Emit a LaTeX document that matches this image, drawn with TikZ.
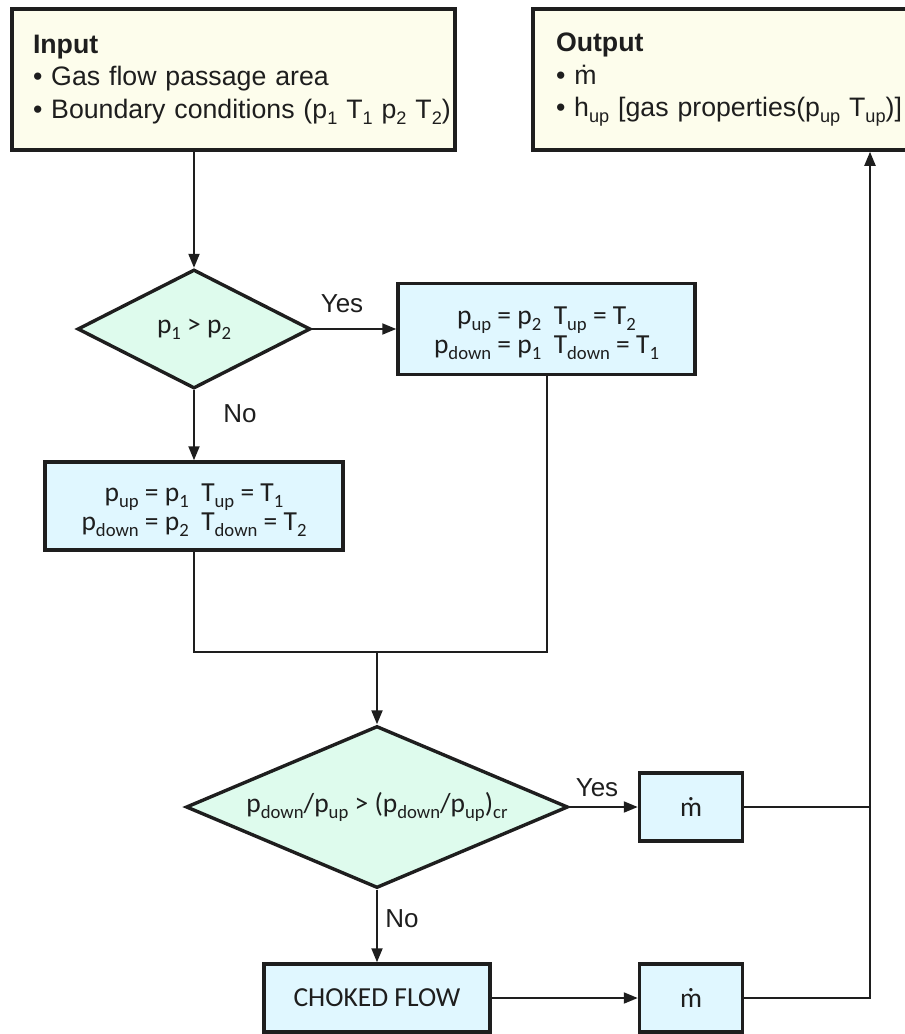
\documentclass[tikz,border=0pt]{standalone}
\usepackage{fontspec}
\setmainfont{Liberation Sans}
\newfontfamily\calfont{Carlito}
\usetikzlibrary{arrows.meta,shapes.geometric,calc}

\definecolor{inputfill}{RGB}{253,253,236}
\definecolor{procfill}{RGB}{224,247,255}
\definecolor{decfill}{RGB}{222,251,237}
\definecolor{ink}{RGB}{30,30,30}

% subscript helper
\newcommand\lo[1]{\raisebox{-0.22em}{\scalebox{0.68}{#1}}}
\newcommand\mdot{\accent"02D9 m}
% extra head room so two-line formulas sit a little lower
\newcommand\toprule{\rule{0pt}{27pt}}

\tikzset{
  iobox/.style={draw=ink, fill=inputfill, line width=3.5pt, rectangle,
    minimum height=141pt, inner ysep=0pt, align=left, text=ink,
    font=\fontsize{26.7}{32.5}\selectfont},
  procbox/.style={draw=ink, fill=procfill, line width=3.5pt, rectangle,
    inner sep=0pt, align=center, text=ink,
    font=\calfont\fontsize{27.5}{29}\selectfont},
  decision/.style={draw=ink, fill=decfill, line width=3.4pt, diamond,
    inner sep=0pt, align=center, text=ink,
    font=\calfont\fontsize{27.5}{28}\selectfont},
  conn/.style={draw=ink, line width=2pt},
  arr/.style={conn, -{Triangle[length=14pt,width=11pt]}},
  yn/.style={text=ink, font=\fontsize{26}{30}\selectfont, inner sep=0pt}
}

\begin{document}
\begin{tikzpicture}[x=1pt,y=-1pt]
\useasboundingbox (0,0) rectangle (905,1034);
\begin{scope}
\clip (0,0) rectangle (905,1034);

% input / output
\node[iobox, inner xsep=21pt, text width=401pt] (in) at (233.5,79.5)
  {\mbox{\textbf{Input}}\\
   \mbox{• Gas flow passage area}\\
   \mbox{• Boundary conditions (p\lo{1} T\lo{1} p\lo{2} T\lo{2})}};
\node[iobox, inner xsep=23pt, text width=360pt] (out) at (736,79.5)
  {\mbox{\textbf{Output}}\\
   \mbox{• \mdot}\\
   \mbox{• h\lo{up} [gas properties(p\lo{up} T\lo{up})]}};

% first decision
\node[decision, aspect=1.96, minimum width=233pt, minimum height=119pt] (d1) at (194,329)
  {p\lo{1} > p\lo{2}};
\node[procbox, minimum width=297pt, minimum height=91pt] (b1) at (546.5,329)
  {\toprule p\lo{up} = p\lo{2}\ \ T\lo{up} = T\lo{2}\\
   p\lo{down} = p\lo{1}\ \ T\lo{down} = T\lo{1}};
\node[procbox, minimum width=298pt, minimum height=88pt] (b2) at (194,506)
  {\toprule p\lo{up} = p\lo{1}\ \ T\lo{up} = T\lo{1}\\
   p\lo{down} = p\lo{2}\ \ T\lo{down} = T\lo{2}};

% second decision
\node[decision, aspect=2.36, minimum width=382pt, minimum height=162pt] (d2) at (377,807)
  {p\lo{down}/p\lo{up} > (p\lo{down}/p\lo{up})\lo{cr}};
\node[procbox, minimum width=103pt, minimum height=68pt] (m1) at (691,807) {\mdot};
\node[procbox, minimum width=226pt, minimum height=68pt] (ch) at (377,998) {CHOKED FLOW};
\node[procbox, minimum width=103pt, minimum height=68pt] (m2) at (691,998) {\mdot};

\coordinate (mrg) at (377,652);
\coordinate (rail) at (870,0);

% connectors
\draw[arr] (d1.north |- in.south) -- (d1.north);
\draw[arr] (d1.east) -- (b1.west);
\node[yn] (yes1) at (342,304) {Yes};
\draw[arr] (d1.south) -- (b2.north);
\node[yn] (no1) at (240,414) {No};
\draw[conn] (b2.south) -- (b2.south |- mrg) -- (b1.south |- mrg) -- (b1.south);
\draw[arr] (mrg) -- (d2.north);
\draw[arr] (d2.east) -- (m1.west);
\node[yn] (yes2) at (597,788) {Yes};
\draw[arr] (d2.south) -- (ch.north);
\node[yn] (no2) at (402,919) {No};
\draw[arr] (ch.east) -- (m2.west);
\draw[conn] (m1.east) -- (m1.east -| rail);
\draw[arr] (m2.east) -| (rail |- out.south);
\end{scope}
\end{tikzpicture}
\end{document}
